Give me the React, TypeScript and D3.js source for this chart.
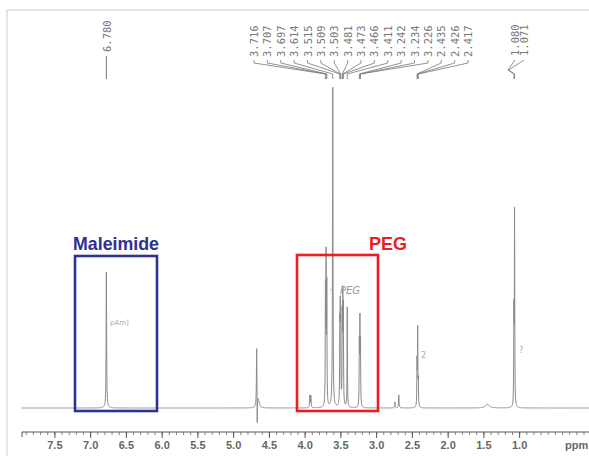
import React from 'react';
import * as d3 from 'd3';

// peaks (ppm, relative height, half width in ppm)
const peakPpm = [6.78, 4.678, 4.67, 4.655, 3.935, 3.92, 3.716, 3.707, 3.697, 3.614, 3.515, 3.509, 3.503, 3.481, 3.473, 3.466, 3.411, 3.242, 3.234, 3.226, 2.745, 2.69, 2.435, 2.426, 2.417, 1.45, 1.08, 1.071];
const peakHeight = [68, 29, -15, 4, 6, 6, 55, 70, 58, 160, 36, 40, 38, 42, 48, 44, 50, 30, 40, 30, 3, 6.5, 22, 38, 12, 2, 45, 96];
const peakWidth = [0.004, 0.004, 0.0015, 0.015, 0.004, 0.004, 0.003, 0.003, 0.003, 0.004, 0.003, 0.003, 0.003, 0.003, 0.003, 0.003, 0.003, 0.003, 0.003, 0.003, 0.004, 0.004, 0.003, 0.003, 0.003, 0.03, 0.003, 0.003];

const singleLabels = ['6.780'];
const multipletLabels = ['3.716', '3.707', '3.697', '3.614', '3.515', '3.509', '3.503', '3.481', '3.473', '3.466', '3.411', '3.242', '3.234', '3.226', '2.435', '2.426', '2.417'];
const pairLabels = ['1.080', '1.071'];

const tickLabels = ['7.5', '7.0', '6.5', '6.0', '5.5', '5.0', '4.5', '4.0', '3.5', '3.0', '2.5', '2.0', '1.5', '1.0'];

const W = 589;
const H = 456;

const App = () => {
    const x = d3.scaleLinear().domain([7.96, 0.03]).range([22, 589]);
    const y = d3.scaleLinear().domain([0, 100]).range([408, 208]);

    const intensity = (p: number) =>
        peakPpm.reduce((s, c, i) => {
            const d = (p - c) / peakWidth[i];
            return s + peakHeight[i] / (1 + d * d);
        }, 0);

    // sample points: regular grid plus each peak centre
    const pts = d3.range(0, 7.97, 0.002).concat(peakPpm).sort((a, b) => b - a);
    const line = d3.line<number>().x(p => x(p)).y(p => y(intensity(p)));

    const axisY = 432;
    const minor = d3.range(79, 0, -1).map(v => v / 10);

    const labelX = d3.scalePoint<string>().domain(multipletLabels).range([254, 468]);

    const monoStyle = { fontFamily: 'DejaVu Sans Mono', fontSize: 10.5, fill: '#777' };

    return (
        <svg width={W} height={H} style={{ position: 'absolute', left: 0, top: 0, background: '#fff' }}>
            {/* frame */}
            <line x1={7} x2={W} y1={10} y2={10} stroke="#ccc" />
            <line x1={7} x2={7} y1={10} y2={H} stroke="#ccc" />

            {/* spectrum */}
            <path d={line(pts) || ''} fill="none" stroke="#8a8a8a" strokeWidth={1} />

            {/* peak labels */}
            {singleLabels.map(l => {
                const px = x(+l);
                return (
                    <g key={l}>
                        <text transform={`translate(${px + 1},52) rotate(-90)`} dominantBaseline="central" style={monoStyle}>{l}</text>
                        <line x1={px} x2={px} y1={56} y2={79} stroke="#777" />
                    </g>
                );
            })}
            {multipletLabels.map(l => {
                const lx = labelX(l) as number;
                const px = x(+l);
                return (
                    <g key={l}>
                        <text transform={`translate(${lx},57) rotate(-90)`} dominantBaseline="central" style={monoStyle}>{l}</text>
                        <path d={`M${lx},60L${lx},63L${px},74L${px},79`} fill="none" stroke="#777" strokeWidth={0.8} />
                    </g>
                );
            })}
            {pairLabels.map((l, i) => {
                const px = x(+l);
                const lx = x(+pairLabels[0]) + 1 + i * 9;
                return (
                    <g key={l}>
                        <text transform={`translate(${lx},56) rotate(-90)`} dominantBaseline="central" style={monoStyle}>{l}</text>
                        <path d={`M${lx},60L${px - 6},70L${px},74L${px},79`} fill="none" stroke="#777" strokeWidth={0.8} />
                    </g>
                );
            })}

            {/* handwritten notes */}
            <text x={110} y={325} fontFamily="DejaVu Sans" fontSize={7} fill="#aaa">pAm]</text>
            <path d={`M330,290L${x(3.6)},288`} stroke="#aaa" fill="none" strokeWidth={0.7} />
            <text x={340} y={294} fontFamily="DejaVu Sans" fontSize={10} fontStyle="italic" fill="#999">PEG</text>
            <text x={421} y={358} fontFamily="DejaVu Sans" fontSize={8} fill="#aaa">2</text>
            <text x={519} y={353} fontFamily="DejaVu Sans" fontSize={8} fill="#aaa">?</text>

            {/* highlight boxes */}
            <rect x={75} y={256} width={82} height={155} fill="none" stroke="#2e3192" strokeWidth={2.6} />
            <text x={73} y={250} fontFamily="Liberation Sans" fontWeight="bold" fontSize={17.8} fill="#2e3192">Maleimide</text>
            <rect x={297} y={255} width={81} height={156} fill="none" stroke="#ed1c24" strokeWidth={2.6} />
            <text x={369} y={250} fontFamily="Liberation Sans" fontWeight="bold" fontSize={18} fill="#ed1c24">PEG</text>

            {/* x axis */}
            <line x1={22} x2={W} y1={axisY} y2={axisY} stroke="#555" />
            <line x1={22} x2={22} y1={axisY} y2={axisY + 5} stroke="#555" />
            {minor.map(v => (
                <line key={v} x1={x(v)} x2={x(v)} y1={axisY} y2={axisY + 3} stroke="#666" strokeWidth={0.8} />
            ))}
            {tickLabels.map(t => (
                <g key={t}>
                    <line x1={x(+t)} x2={x(+t)} y1={axisY} y2={axisY + 6} stroke="#555" />
                    <text x={x(+t)} y={449} textAnchor="middle" fontFamily="Liberation Sans" fontWeight="bold" fontSize={11} fill="#666">{t}</text>
                </g>
            ))}
            <text x={565} y={449} fontFamily="Liberation Sans" fontWeight="bold" fontSize={11} fill="#666">ppm</text>
        </svg>
    );
};

export default App;
